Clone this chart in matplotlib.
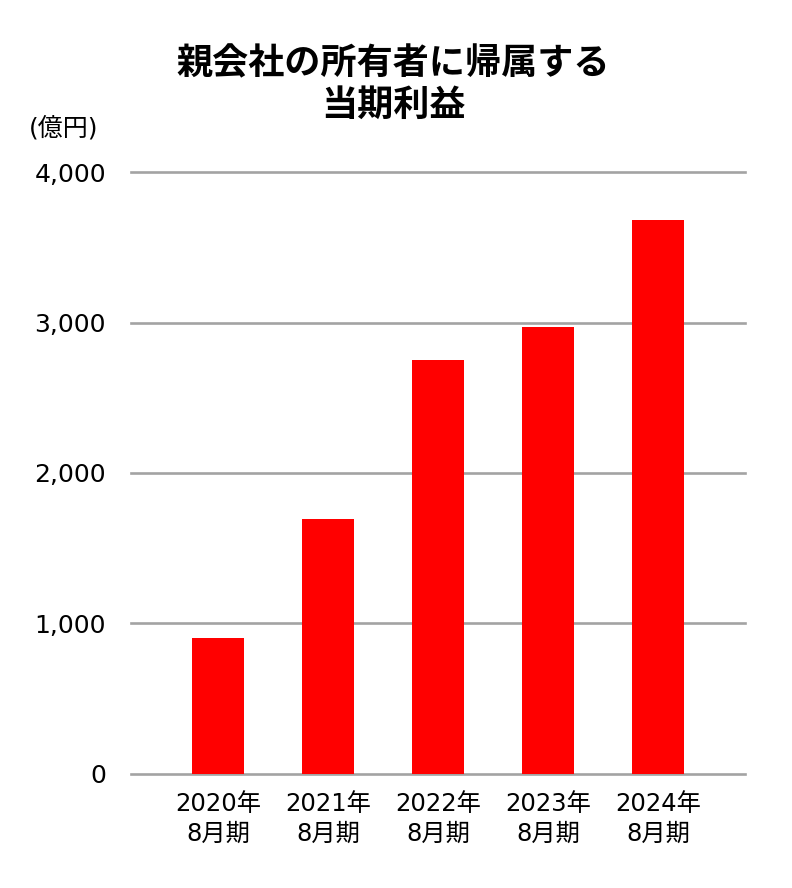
import matplotlib
matplotlib.use("Agg")
import matplotlib.pyplot as plt
import numpy as np

plt.rcParams['font.family'] = ['DejaVu Sans', 'Noto Sans CJK JP']

years = ['2020年', '2021年', '2022年', '2023年', '2024年']
periods = ['8月期', '8月期', '8月期', '8月期', '8月期']
profit = [904, 1695, 2751, 2972, 3681]
yticks = [0, 1000, 2000, 3000, 4000]

labels = [y + '\n' + p for y, p in zip(years, periods)]
x = np.arange(len(profit))

fig = plt.figure(figsize=(7.92, 8.88), dpi=100)
ax = fig.add_axes([0.1654, 0.1287, 0.7753, 0.6773])

ax.bar(x, profit, width=0.47, color='#ff0000', zorder=3)

ax.set_xlim(-0.79, 4.79)
ax.set_ylim(0, 4000)
ax.set_yticks(yticks)
ax.set_yticklabels([f'{v:,}' for v in yticks], fontsize=18)
ax.set_xticks(x)
ax.set_xticklabels(labels, fontsize=17.5, linespacing=1.3)
ax.tick_params(axis='y', length=0, pad=18)
ax.tick_params(axis='x', length=0, pad=13)

ax.grid(axis='y', color='#a3a3a3', linewidth=1.9, zorder=0)
for gl in ax.get_ygridlines():
    gl.set_clip_on(False)
for s in ax.spines.values():
    s.set_visible(False)

fig.text(0.497, 0.905, '親会社の所有者に帰属する\n当期利益', ha='center', va='center',
         fontsize=26, fontweight='bold', linespacing=1.15,
         family=['Noto Sans CJK JP', 'DejaVu Sans'])
fig.text(0.036, 0.856, '(億円)', ha='left', va='center', fontsize=18)

fig.savefig('out.png', dpi=100)
